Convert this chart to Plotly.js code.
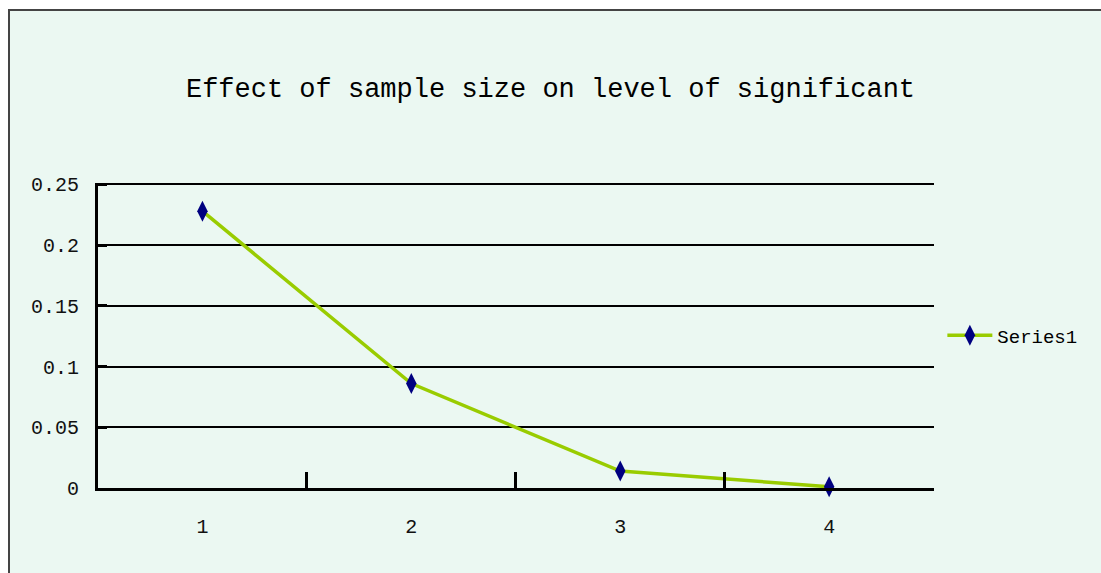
<!DOCTYPE html>
<html>
<head>
<meta charset="utf-8">
<script src="https://cdn.plot.ly/plotly-3.0.1.min.js"></script>
<style>
  html, body { margin: 0; padding: 0; background: #ffffff; width: 1101px; height: 573px; overflow: hidden; }
  #frame { position: absolute; left: 8px; top: 9px; width: 1093px; height: 564px;
           background: #ebf8f2; border-left: 2px solid #444; border-top: 2px solid #444; box-sizing: border-box; }
  #chart { position: absolute; left: 0; top: 0; width: 1101px; height: 573px; }
</style>
</head>
<body>
<div id="frame"></div>
<div id="chart"></div>
<script>
const categories = ['1', '2', '3', '4'];
const series1 = [0.228, 0.086, 0.014, 0.001];
const yTickVals = [0, 0.05, 0.1, 0.15, 0.2, 0.25];
const yTickText = ['0', '0.05', '0.1', '0.15', '0.2', '0.25'];
const chartTitle = 'Effect of sample size on level of significant';
const seriesName = 'Series1';

const font = 'Liberation Mono, DejaVu Sans Mono, monospace';

const trace = {
  x: categories,
  y: series1,
  type: 'scatter',
  mode: 'lines+markers',
  name: seriesName,
  line: { color: '#99cc00', width: 3.5 },
  marker: { symbol: 'diamond-tall', color: '#000080', size: 15, line: { width: 0 } },
  cliponaxis: false
};

const layout = {
  width: 1101,
  height: 573,
  margin: { l: 98, r: 167, t: 183, b: 85, pad: 0 },
  paper_bgcolor: 'rgba(0,0,0,0)',
  plot_bgcolor: 'rgba(0,0,0,0)',
  title: {
    text: chartTitle,
    font: { family: font, size: 27, color: '#000' },
    x: 0.5, xanchor: 'center', xref: 'container',
    y: 1 - 88 / 573, yanchor: 'middle', yref: 'container'
  },
  xaxis: {
    type: 'category',
    range: [-0.5, 3.502],
    showgrid: false,
    showline: true, linecolor: '#000', linewidth: 3,
    ticks: 'inside', ticklen: 16, tickwidth: 3, tickcolor: '#000',
    tickson: 'boundaries',
    ticklabelstandoff: 18,
    tickfont: { family: font, size: 20, color: '#111' },
    zeroline: false,
    fixedrange: true
  },
  yaxis: {
    range: [0, 0.2512],
    tickvals: yTickVals,
    ticktext: yTickText,
    showgrid: true, gridcolor: '#000', gridwidth: 2,
    showline: true, linecolor: '#000', linewidth: 3,
    ticks: 'inside', ticklen: 9, tickwidth: 3, tickcolor: '#000',
    ticklabelstandoff: 12,
    tickfont: { family: font, size: 20, color: '#111' },
    zeroline: false,
    fixedrange: true
  },
  showlegend: true,
  legend: {
    x: 1.01, xanchor: 'left',
    y: 0.5, yanchor: 'middle',
    itemwidth: 45,
    bgcolor: 'rgba(0,0,0,0)',
    font: { family: font, size: 19, color: '#000' }
  }
};

Plotly.newPlot('chart', [trace], layout, { displayModeBar: false, staticPlot: true });
</script>
</body>
</html>
